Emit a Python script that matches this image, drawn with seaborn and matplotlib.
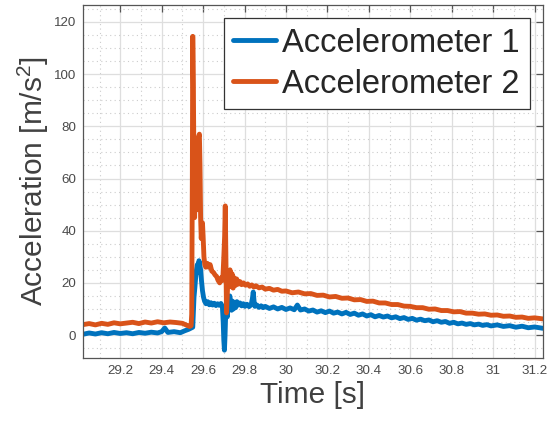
import numpy as np
import pandas as pd
import matplotlib
matplotlib.use("Agg")
import matplotlib.pyplot as plt
from matplotlib.ticker import MultipleLocator
import seaborn as sns

# Accelerometer 2 (orange)
t_acc2 = [29.02, 29.05, 29.08, 29.11, 29.14, 29.17, 29.20, 29.23, 29.26, 29.29,
          29.32, 29.35, 29.38, 29.41, 29.44, 29.47, 29.50, 29.52, 29.535, 29.542,
          29.545, 29.548, 29.550, 29.553, 29.556, 29.559, 29.562, 29.566, 29.569, 29.573,
          29.578, 29.582, 29.585, 29.588, 29.591, 29.594, 29.597, 29.600, 29.604, 29.608,
          29.613, 29.620, 29.627, 29.634, 29.642, 29.650, 29.658, 29.665, 29.672, 29.680,
          29.688, 29.695, 29.700, 29.704, 29.707, 29.710, 29.713, 29.716, 29.720, 29.725,
          29.730, 29.735, 29.740, 29.745, 29.750, 29.756, 29.762, 29.770, 29.778, 29.786,
          29.795, 29.805, 29.815, 29.825, 29.835, 29.845, 29.855, 29.87, 29.885, 29.90,
          29.92, 29.94, 29.96, 29.98, 30.00, 30.03, 30.06, 30.09, 30.12, 30.15,
          30.18, 30.21, 30.24, 30.27, 30.30, 30.33, 30.36, 30.39, 30.42, 30.45,
          30.48, 30.51, 30.54, 30.57, 30.60, 30.63, 30.66, 30.69, 30.72, 30.75,
          30.78, 30.81, 30.84, 30.87, 30.90, 30.93, 30.96, 30.99, 31.02, 31.05,
          31.08, 31.11, 31.14, 31.17, 31.20, 31.24]
v_acc2 = [4.0, 4.4, 3.9, 4.5, 4.1, 4.7, 4.3, 4.6, 4.9, 4.4,
          5.0, 4.6, 5.1, 4.7, 5.0, 4.8, 4.5, 3.8, 3.3, 3.6,
          8.0, 60.0, 114.5, 96.0, 62.0, 45.0, 57.0, 55.0, 48.0, 60.0,
          76.0, 77.0, 65.0, 45.0, 37.0, 41.0, 43.0, 38.0, 30.0, 27.0,
          26.0, 27.5, 26.0, 27.0, 24.5, 24.0, 23.0, 22.5, 21.0, 20.0,
          22.0, 21.0, 30.0, 38.0, 49.5, 30.0, 8.5, 14.0, 22.0, 19.0,
          25.0, 18.5, 23.5, 18.0, 22.0, 19.0, 21.5, 19.5, 20.5, 19.3,
          20.0, 19.1, 19.6, 18.7, 19.2, 18.4, 18.9, 18.1, 18.4, 17.6,
          17.9, 17.2, 17.5, 16.8, 16.9, 16.2, 16.5, 15.8, 15.9, 15.2,
          15.3, 14.6, 14.8, 14.1, 14.2, 13.5, 13.6, 12.9, 13.0, 12.3,
          12.3, 11.7, 11.7, 11.1, 11.0, 10.5, 10.5, 9.9, 10.0, 9.4,
          9.4, 8.9, 9.0, 8.4, 8.4, 8.0, 8.1, 7.6, 7.7, 7.2,
          7.3, 6.8, 6.9, 6.4, 6.6, 6.2]

# Accelerometer 1 (blue)
t_acc1 = [29.02, 29.05, 29.08, 29.11, 29.14, 29.17, 29.20, 29.23, 29.26, 29.29,
          29.32, 29.35, 29.38, 29.40, 29.415, 29.43, 29.46, 29.49, 29.51, 29.53,
          29.550, 29.556, 29.560, 29.564, 29.568, 29.572, 29.576, 29.580, 29.584, 29.588,
          29.592, 29.597, 29.602, 29.607, 29.614, 29.622, 29.630, 29.638, 29.646, 29.654,
          29.662, 29.670, 29.678, 29.686, 29.693, 29.697, 29.700, 29.703, 29.706, 29.709,
          29.713, 29.717, 29.721, 29.725, 29.729, 29.733, 29.737, 29.742, 29.747, 29.752,
          29.757, 29.763, 29.770, 29.778, 29.786, 29.794, 29.802, 29.812, 29.822, 29.832,
          29.838, 29.842, 29.846, 29.850, 29.86, 29.87, 29.88, 29.89, 29.90, 29.92,
          29.94, 29.96, 29.98, 30.00, 30.02, 30.04, 30.055, 30.07, 30.09, 30.11,
          30.13, 30.15, 30.17, 30.19, 30.21, 30.23, 30.25, 30.27, 30.29, 30.31,
          30.33, 30.35, 30.37, 30.39, 30.41, 30.43, 30.45, 30.47, 30.49, 30.51,
          30.53, 30.55, 30.57, 30.59, 30.61, 30.63, 30.65, 30.67, 30.69, 30.71,
          30.73, 30.75, 30.77, 30.79, 30.81, 30.83, 30.85, 30.87, 30.89, 30.91,
          30.93, 30.95, 30.97, 30.99, 31.02, 31.05, 31.08, 31.11, 31.14, 31.17,
          31.20, 31.24]
v_acc1 = [0.3, 0.8, 0.4, 0.9, 0.5, 1.0, 0.6, 0.9, 0.5, 1.0,
          0.7, 1.1, 0.8, 1.3, 2.7, 1.0, 1.3, 0.9, 1.6, 2.2,
          3.0, 14.5, 18.0, 22.0, 25.0, 27.0, 24.0, 28.5, 27.0, 25.0,
          21.0, 17.0, 14.5, 13.0, 12.0, 12.8, 11.6, 12.4, 11.5, 12.2,
          11.3, 12.0, 11.4, 12.1, 11.0, 5.0, -2.0, -5.8, 0.0, 8.0,
          11.0, 7.0, 13.0, 10.0, 15.0, 11.0, 9.5, 13.0, 10.0, 12.5,
          10.5, 12.8, 11.5, 12.3, 11.2, 12.0, 11.0, 11.8, 10.9, 11.6,
          14.0, 16.5, 13.0, 11.0, 11.5, 10.6, 11.2, 10.5, 11.0, 10.2,
          10.8, 10.0, 10.6, 9.8, 10.4, 9.7, 11.5, 9.6, 10.0, 9.2,
          9.6, 8.8, 9.3, 8.6, 9.2, 8.4, 8.8, 8.1, 8.7, 7.9,
          8.4, 7.6, 8.1, 7.3, 7.8, 7.0, 7.5, 6.9, 7.3, 6.6,
          7.0, 6.3, 6.7, 6.0, 6.4, 5.7, 6.1, 5.5, 5.8, 5.1,
          5.5, 4.9, 5.2, 4.5, 4.9, 4.3, 4.6, 4.1, 4.4, 3.9,
          4.2, 3.7, 4.0, 3.5, 3.9, 3.3, 3.6, 3.0, 3.4, 2.8,
          3.1, 2.6]

x_ticks = [29.2, 29.4, 29.6, 29.8, 30.0, 30.2, 30.4, 30.6, 30.8, 31.0, 31.2]
x_labels = ["29.2", "29.4", "29.6", "29.8", "30", "30.2", "30.4", "30.6", "30.8", "31", "31.2"]
y_ticks = [0, 20, 40, 60, 80, 100, 120]

sns.set_style("white")
plt.rcParams['font.family'] = ['Liberation Sans', 'DejaVu Sans']
plt.rcParams['mathtext.default'] = 'regular'

fig = plt.figure(figsize=(5.55, 4.21), dpi=100)
ax = fig.add_axes([0.1495, 0.1496, 0.8285, 0.8385])

sns.lineplot(x=t_acc1, y=v_acc1, color='#0072BD', lw=3.5, label='Accelerometer 1', ax=ax, sort=False)
sns.lineplot(x=t_acc2, y=v_acc2, color='#D95319', lw=3.5, label='Accelerometer 2', ax=ax, sort=False)

ax.set_xlim(29.02, 31.24)
ax.set_ylim(-8.8, 126.5)
ax.set_xticks(x_ticks)
ax.set_xticklabels(x_labels)
ax.set_yticks(y_ticks)
ax.xaxis.set_minor_locator(MultipleLocator(0.1))
ax.yaxis.set_minor_locator(MultipleLocator(5))

ax.grid(which='major', color='#dedede', lw=0.9)
ax.grid(which='minor', color='#cccccc', lw=0.8, ls=(0, (1, 3)))
ax.set_axisbelow(True)

for s in ax.spines.values():
    s.set_color('#555555')
    s.set_linewidth(0.9)
ax.tick_params(which='major', direction='in', length=5, width=0.9, color='#555555',
               top=True, right=True, labelsize=9.6, labelcolor='#4a4a4a', pad=5)
ax.tick_params(which='minor', length=0)

ax.set_xlabel('Time [s]', fontsize=21.5, color='#404040', labelpad=3)
ax.set_ylabel('Acceleration [m/s$^2$]', fontsize=21.5, color='#404040', labelpad=2)

leg = ax.legend(loc='upper right', fontsize=23.5, frameon=True, fancybox=False,
                framealpha=1, edgecolor='#333333', handlelength=1.3, handletextpad=0.2,
                labelspacing=0.3, borderaxespad=0.4, borderpad=0.3)
leg.get_frame().set_linewidth(0.9)
for txt in leg.get_texts():
    txt.set_color('#262626')

fig.savefig('out.png', dpi=100)
